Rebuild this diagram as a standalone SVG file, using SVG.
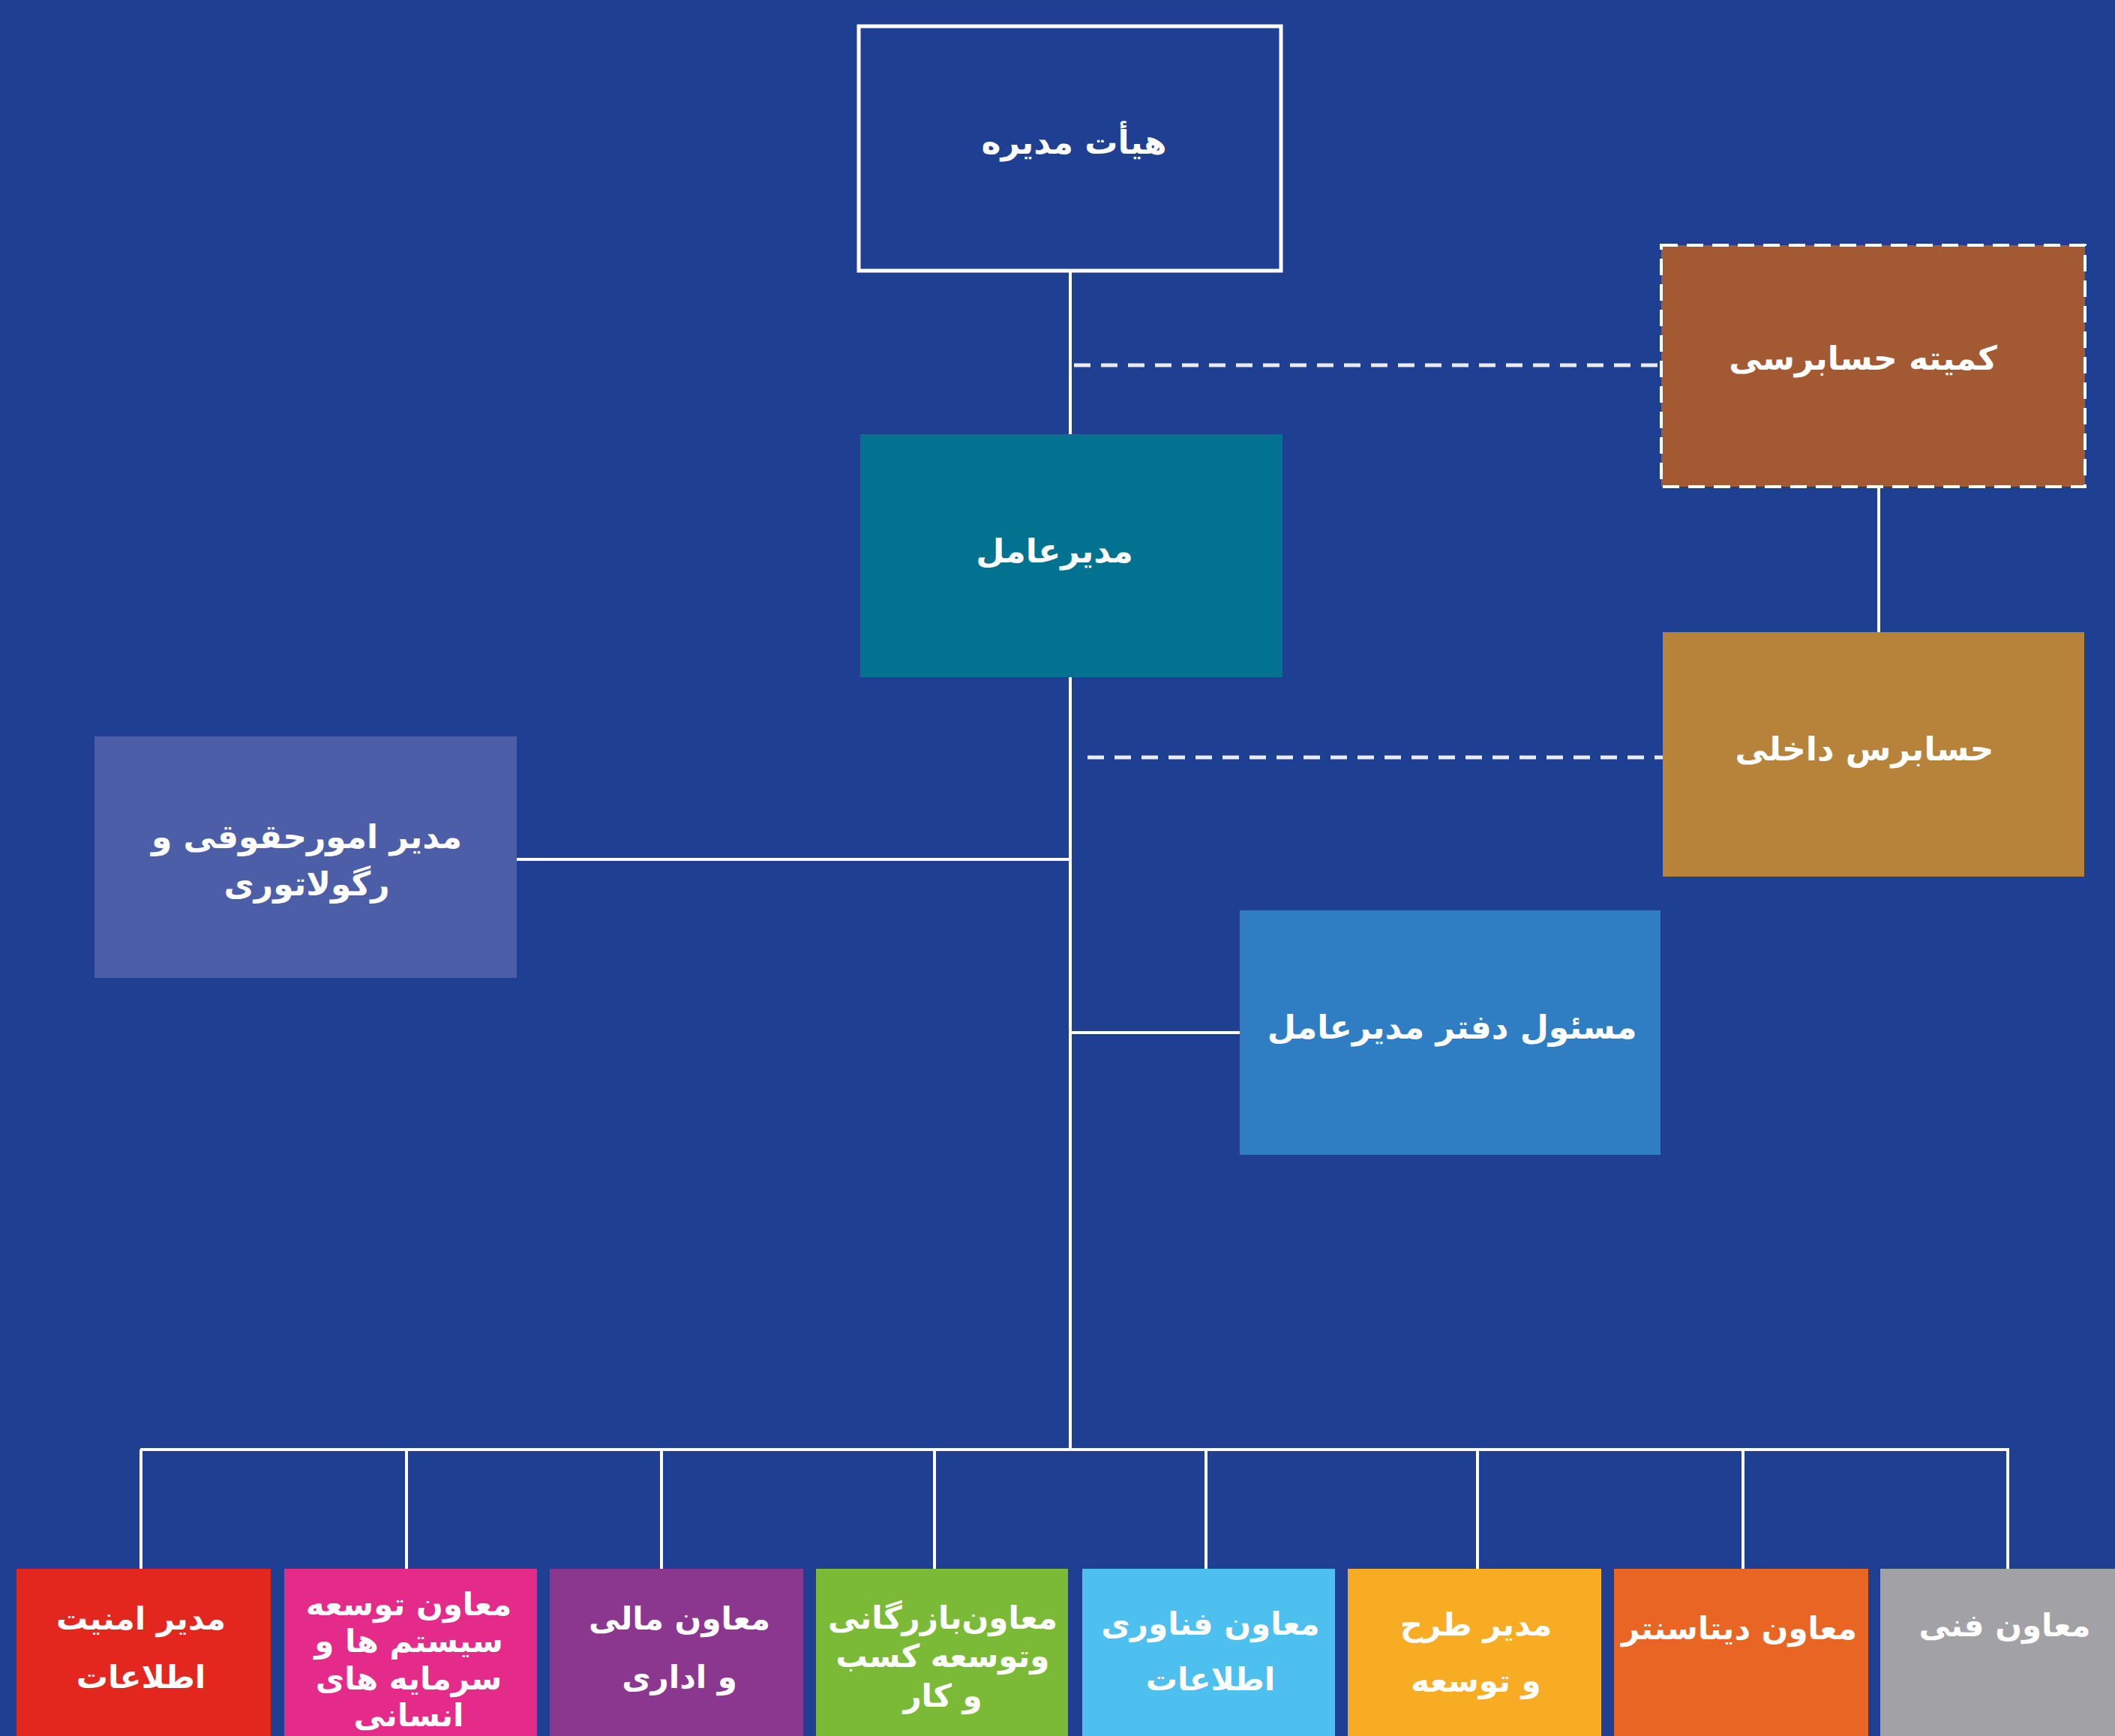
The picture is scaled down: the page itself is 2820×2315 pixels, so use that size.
<svg xmlns="http://www.w3.org/2000/svg" width="2820" height="2315" viewBox="0 0 2820 2315">
<style>
.t{font-family:"DejaVu Sans","Noto Sans",sans-serif;font-weight:bold;fill:#ffffff;text-anchor:middle;direction:rtl}
.m{font-size:44px}
.s{font-size:42px}
.ln{stroke:#ffffff;stroke-width:4;fill:none}
.dl{stroke:#ffffff;stroke-width:5;fill:none;stroke-dasharray:22 14;opacity:0.9}
</style>
<rect x="0" y="0" width="2820" height="2315" fill="#1F3F93"/>
<g id="connectors">
<line class="ln" x1="1427" y1="361" x2="1427" y2="1935"/>
<line class="dl" x1="1432" y1="487" x2="2214" y2="487"/>
<line class="ln" x1="2505" y1="649" x2="2505" y2="843"/>
<line class="dl" x1="1450" y1="1010" x2="2217" y2="1010"/>
<line class="ln" x1="689" y1="1146" x2="1427" y2="1146"/>
<line class="ln" x1="1427" y1="1377" x2="1653" y2="1377"/>
<line class="ln" x1="187" y1="1933" x2="2679" y2="1933"/>
<line class="ln" x1="188" y1="1933" x2="188" y2="2092"/>
<line class="ln" x1="542" y1="1933" x2="542" y2="2092"/>
<line class="ln" x1="882" y1="1933" x2="882" y2="2092"/>
<line class="ln" x1="1246" y1="1933" x2="1246" y2="2092"/>
<line class="ln" x1="1608" y1="1933" x2="1608" y2="2092"/>
<line class="ln" x1="1970" y1="1933" x2="1970" y2="2092"/>
<line class="ln" x1="2324" y1="1933" x2="2324" y2="2092"/>
<line class="ln" x1="2677" y1="1933" x2="2677" y2="2092"/>
</g>
<g id="board">
<rect x="1145" y="35" width="563" height="326" fill="#1F3F93" stroke="#ffffff" stroke-width="5"/>
<text class="t m" x="1432" y="205">هیأت مدیره</text>
</g>
<g id="audit-committee">
<rect x="2215" y="327" width="565" height="322" fill="#A35932" stroke="#ffffff" stroke-width="4" stroke-dasharray="22 12"/>
<text class="t m" x="2484" y="493">کمیته حسابرسی</text>
</g>
<g id="ceo">
<rect x="1147" y="579" width="563" height="324" fill="#01728F"/>
<text class="t m" x="1406" y="750">مدیرعامل</text>
</g>
<g id="internal-auditor">
<rect x="2217" y="843" width="562" height="326" fill="#B7833A"/>
<text class="t m" x="2486" y="1014">حسابرس داخلی</text>
</g>
<g id="legal">
<rect x="126" y="982" width="563" height="322" fill="#4C5EA8"/>
<text class="t m" x="409" y="1131">مدیر امورحقوقی و</text>
<text class="t m" x="409" y="1194">رگولاتوری</text>
</g>
<g id="ceo-office">
<rect x="1653" y="1214" width="561" height="326" fill="#2F7DC2"/>
<text class="t m" x="1936" y="1385">مسئول دفتر مدیرعامل</text>
</g>
<g id="infosec">
<rect x="22" y="2092" width="339" height="223" fill="#E3261E"/>
<text class="t s" x="188" y="2173">مدیر امنیت</text>
<text class="t s" x="188" y="2251">اطلاعات</text>
</g>
<g id="hr">
<rect x="379" y="2092" width="337" height="223" fill="#E42B8A"/>
<text class="t s" x="545" y="2154">معاون توسعه</text>
<text class="t s" x="545" y="2203">سیستم ها و</text>
<text class="t s" x="545" y="2253">سرمایه های</text>
<text class="t s" x="545" y="2302">انسانی</text>
</g>
<g id="finance">
<rect x="733" y="2092" width="338" height="223" fill="#8B3790"/>
<text class="t s" x="906" y="2173">معاون مالی</text>
<text class="t s" x="906" y="2251">و اداری</text>
</g>
<g id="commerce">
<rect x="1088" y="2092" width="336" height="223" fill="#7BBA36"/>
<text class="t s" x="1257" y="2172">معاون‌بازرگانی</text>
<text class="t s" x="1257" y="2223">وتوسعه کسب</text>
<text class="t s" x="1257" y="2276">و کار</text>
</g>
<g id="it">
<rect x="1443" y="2092" width="337" height="223" fill="#4DC0EF"/>
<text class="t s" x="1614" y="2180">معاون فناوری</text>
<text class="t s" x="1614" y="2254">اطلاعات</text>
</g>
<g id="project">
<rect x="1797" y="2092" width="338" height="223" fill="#F7AC24"/>
<text class="t s" x="1968" y="2181">مدیر طرح</text>
<text class="t s" x="1968" y="2256">و توسعه</text>
</g>
<g id="datacenter">
<rect x="2152" y="2092" width="339" height="223" fill="#E86524"/>
<text class="t s" x="2319" y="2186">معاون دیتاسنتر</text>
</g>
<g id="technical">
<rect x="2507" y="2092" width="313" height="223" fill="#A1A1A6"/>
<text class="t s" x="2673" y="2182">معاون فنی</text>
</g>
</svg>
